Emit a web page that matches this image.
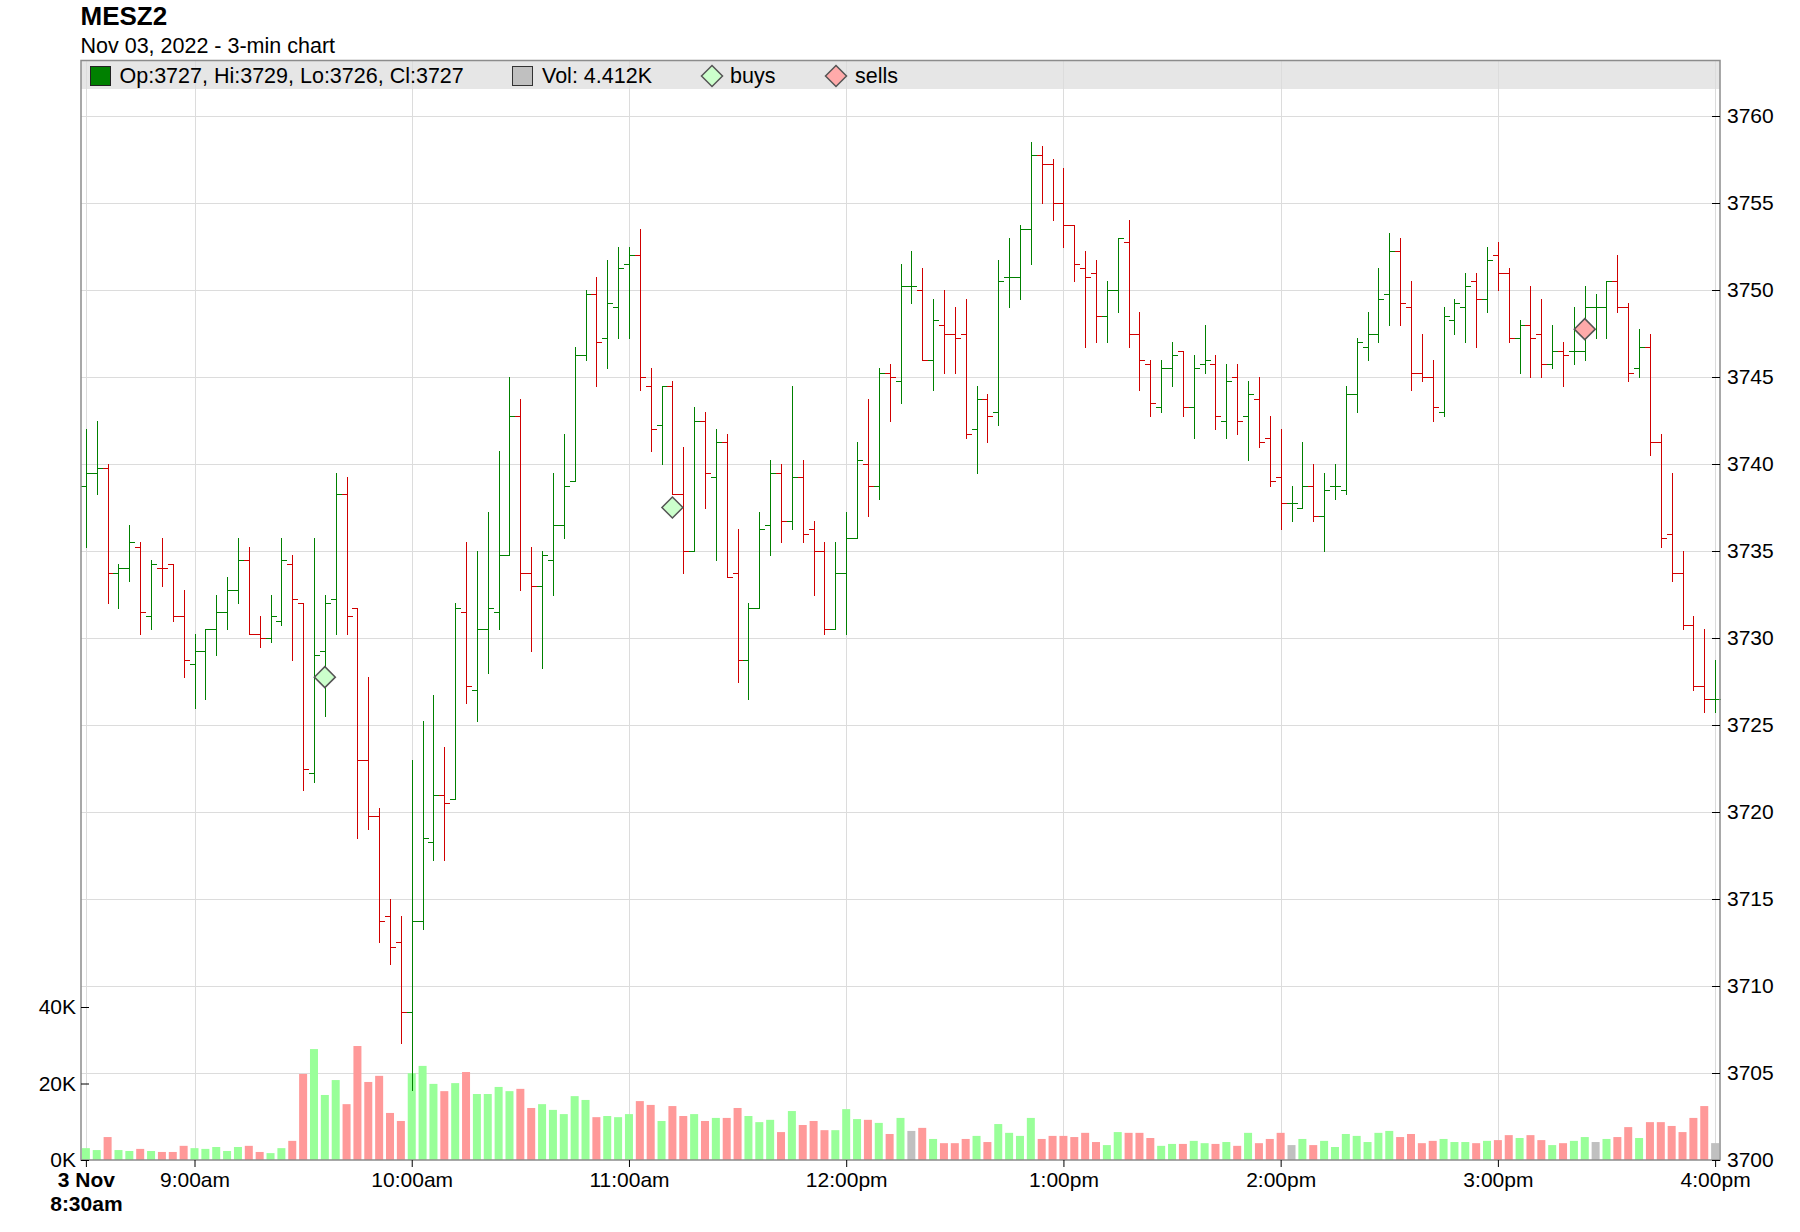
<!DOCTYPE html>
<html>
<head>
<meta charset="utf-8">
<script src="https://cdn.jsdelivr.net/npm/d3@7"></script>
<style>
  body { margin: 0; background: #fff; }
  svg { display: block; font-family: "Liberation Sans", Arial, sans-serif; }
</style>
</head>
<body>
<div class="chart"></div>
<script>
// MESZ2, Nov 03 2022, 3-min bars from 8:30am to 4:00pm
const symbol = "MESZ2";
const subtitle = "Nov 03, 2022 - 3-min chart";
const startTime = "2022-11-03 08:30";
const barMinutes = 3;

const opens = [
  3738.75, 3739.5, 3739.75, 3733.75, 3734, 3735.25, 3731.25, 3734, 3734.25, 3731.25,
  3728.5, 3729.25, 3730.5, 3731.5, 3732.75, 3734.5, 3730.25, 3730, 3731, 3734.25,
  3732, 3722.25, 3729.25, 3732.25, 3738.25, 3731.75, 3723, 3719.75, 3714, 3712.5,
  3708.5, 3713.75, 3718.25, 3721, 3720.75, 3731.5, 3727, 3730.5, 3731.5, 3734.75,
  3742.75, 3733.75, 3733, 3734.5, 3736.5, 3739, 3746.25, 3749.75, 3747.25, 3749,
  3751.5, 3752, 3744.5, 3742.25, 3744.5, 3738.25, 3735, 3742.5, 3739.25, 3741.25,
  3733.75, 3728.75, 3731.75, 3736.5, 3739.5, 3736.75, 3739.25, 3736.25, 3735, 3730.5,
  3733.75, 3735.75, 3740, 3738.75, 3745.25, 3744.75, 3750.25, 3750, 3746, 3748,
  3747.5, 3747.5, 3742, 3743.75, 3743, 3750.75, 3750.75, 3753.5, 3757.75, 3757.25,
  3755, 3753.75, 3751.25, 3751, 3748.5, 3750, 3752.75, 3747.5, 3745.75, 3743.25,
  3745.5, 3746.5, 3743.25, 3745.75, 3745.75, 3742.5, 3745, 3742.75, 3743.75, 3741.5,
  3739.25, 3737.75, 3737.5, 3738.75, 3737, 3738.75, 3738.5, 3744, 3746.75, 3747.5,
  3749.75, 3752.25, 3749, 3745.25, 3745, 3743, 3748.25, 3749, 3750.5, 3749.5,
  3752, 3751, 3747.25, 3748, 3747.5, 3745.75, 3746.5, 3746.5, 3746.5, 3749,
  3749, 3750.5, 3749, 3745.5, 3746.75, 3741.25, 3736, 3733.75, 3730.75, 3727.25,
  3726.5
];

const highs = [
  3742, 3742.5, 3740, 3734.25, 3736.5, 3735.5, 3734.5, 3735.75, 3734.25, 3732.75,
  3730.25, 3730.5, 3732.5, 3733.5, 3735.75, 3735.25, 3731.25, 3732.5, 3735.75, 3734.75,
  3732, 3735.75, 3732.5, 3739.5, 3739.25, 3731.75, 3727.75, 3720.25, 3715, 3714,
  3723, 3725.25, 3726.75, 3723.75, 3732, 3735.5, 3735, 3737.25, 3740.75, 3745,
  3743.75, 3735.25, 3735, 3739.5, 3741.75, 3746.75, 3750, 3750.75, 3751.75, 3752.5,
  3752.5, 3753.5, 3745.5, 3744.5, 3744.75, 3741, 3743.25, 3743, 3742, 3741.75,
  3736.25, 3732, 3737.25, 3740.25, 3740, 3744.5, 3740.25, 3736.75, 3735.5, 3735.5,
  3737.25, 3741.25, 3743.75, 3745.5, 3745.75, 3751.5, 3752.25, 3751.25, 3749.5, 3750,
  3749, 3749.5, 3744.5, 3744, 3751.75, 3753, 3753.75, 3758.5, 3758.25, 3757.5,
  3757, 3753.75, 3752.25, 3751.75, 3750.5, 3753, 3754, 3748.75, 3746, 3746,
  3747, 3746.5, 3746.25, 3748, 3746.25, 3745.75, 3745.75, 3744.75, 3745, 3742.75,
  3742, 3738.75, 3741.25, 3740, 3739.5, 3740, 3744.5, 3747.25, 3748.75, 3751.25,
  3753.25, 3753, 3750.5, 3747.5, 3746, 3749, 3749.5, 3751, 3751, 3752.5,
  3752.75, 3751.25, 3748.25, 3750.25, 3749.5, 3748, 3747, 3749, 3750.25, 3749.75,
  3750.5, 3752, 3749.25, 3747.75, 3747.5, 3741.75, 3739.5, 3735, 3731.25, 3730.5,
  3728.75
];

const lows = [
  3735.25, 3738.25, 3732, 3731.75, 3733.25, 3730.25, 3730.5, 3733, 3731, 3727.75,
  3726, 3726.5, 3729, 3730.5, 3732, 3730.25, 3729.5, 3729.75, 3730.75, 3728.75,
  3721.25, 3721.75, 3725.5, 3730.25, 3730.25, 3718.5, 3719, 3712.5, 3711.25, 3706.75,
  3704, 3713.25, 3717.25, 3717.25, 3720.75, 3726.25, 3725.25, 3728, 3730.5, 3734.75,
  3732.75, 3729.25, 3728.25, 3732.5, 3735.75, 3739, 3746, 3744.5, 3745.5, 3747.25,
  3747.25, 3744.25, 3740.75, 3740, 3738.25, 3733.75, 3735, 3737.5, 3734.5, 3733.5,
  3727.5, 3726.5, 3731.75, 3734.75, 3735.5, 3736.25, 3735.5, 3732.5, 3730.25, 3730.5,
  3730.25, 3735.75, 3737, 3738, 3742.5, 3743.5, 3749.25, 3746, 3744.25, 3745.25,
  3745.25, 3741.5, 3739.5, 3741.25, 3742.25, 3749, 3749.5, 3751.5, 3755, 3754,
  3752.5, 3750.5, 3746.75, 3747, 3747, 3748.75, 3746.75, 3744.25, 3742.75, 3743,
  3744.5, 3742.75, 3741.5, 3745.25, 3742, 3741.5, 3741.75, 3740.25, 3741, 3738.75,
  3736.25, 3736.75, 3737.5, 3736.75, 3735, 3738, 3738.25, 3743, 3746, 3747,
  3748, 3748, 3744.25, 3744.75, 3742.5, 3742.75, 3747.5, 3747, 3746.75, 3748.75,
  3750, 3747, 3745.25, 3745, 3745, 3745.5, 3744.5, 3745.75, 3746, 3747.25,
  3747.25, 3748.75, 3744.75, 3745, 3740.5, 3735.25, 3733.25, 3730.5, 3727, 3725.75,
  3725.75
];

const closes = [
  3739.5, 3739.75, 3733.75, 3734, 3735.5, 3731.5, 3734.25, 3734, 3731.25, 3728.75,
  3729.25, 3730.5, 3731.5, 3732.75, 3734.5, 3730.25, 3730, 3731.25, 3734.5, 3732.25,
  3722.5, 3729, 3732, 3738.25, 3731.25, 3723, 3719.75, 3713.75, 3712.25, 3708.5,
  3713.75, 3718.5, 3721, 3720.5, 3731.75, 3727.25, 3730.5, 3731.75, 3734.75, 3742.75,
  3733.75, 3733, 3734.75, 3736.5, 3738.75, 3746.25, 3749.75, 3747, 3749.25, 3751.25,
  3752, 3745, 3742, 3744.5, 3738.25, 3735, 3742.5, 3739.5, 3741.25, 3733.5,
  3728.75, 3731.75, 3736.25, 3739.5, 3736.75, 3739.25, 3736, 3735, 3730.5, 3733.75,
  3735.75, 3740.25, 3738.75, 3745.25, 3745, 3750.25, 3750.25, 3746, 3748.25, 3747.5,
  3747.25, 3741.75, 3743.75, 3742.75, 3750.5, 3750.75, 3753.5, 3757.75, 3757.25, 3755,
  3753.75, 3751.5, 3750.75, 3748.5, 3750, 3753, 3747.5, 3746, 3743.5, 3745.5,
  3746.25, 3743.25, 3745.5, 3746, 3742.75, 3744.75, 3742.5, 3744, 3741.25, 3739,
  3737.75, 3737.75, 3738.75, 3737, 3738.5, 3738.75, 3744, 3747, 3747.5, 3749.5,
  3752.25, 3749.25, 3745.25, 3745, 3743.25, 3748.5, 3749.25, 3750.25, 3749.5, 3751.75,
  3751, 3747.25, 3748, 3747.25, 3745.75, 3746.5, 3746.25, 3746.5, 3749, 3749,
  3750.5, 3749, 3745.25, 3746.75, 3741.25, 3735.75, 3733.75, 3730.75, 3727.25, 3726.5,
  3726.5
];

const volumes = [
  3100, 2600, 6000, 2600, 2350, 2900, 2350, 2100, 2100, 3700,
  3100, 2900, 3400, 2350, 3400, 3700, 2100, 1800, 3100, 5000,
  22500, 29000, 17000, 20900, 14600, 29800, 20400, 22000, 12300, 10200,
  22700, 24600, 19900, 18000, 20100, 23000, 17250, 17250, 19100, 18000,
  18600, 13600, 14600, 13100, 12000, 16700, 15700, 11200, 11500, 11200,
  12000, 15400, 14400, 10200, 14100, 11500, 12000, 10200, 11000, 11000,
  13600, 11500, 9900, 10500, 7300, 12800, 9150, 10200, 7800, 7800,
  13300, 10700, 10500, 9700, 6800, 11000, 7600, 8400, 5500, 4400,
  4400, 5500, 6300, 4700, 9400, 7100, 6300, 11000, 5500, 6300,
  6300, 6000, 7100, 4700, 3900, 7300, 7100, 7100, 5750, 3700,
  4200, 4200, 5000, 4400, 4200, 4700, 3700, 7100, 4400, 5500,
  7100, 3900, 5500, 3900, 5000, 3400, 6800, 6300, 4700, 7100,
  7600, 6000, 6800, 4400, 5000, 5500, 4700, 4700, 4400, 5000,
  5200, 6500, 5750, 6500, 5200, 3900, 4400, 5000, 6000, 4700,
  5500, 6000, 8600, 5750, 9900, 9900, 8900, 7300, 11000, 14100,
  4412
];

// trade markers (bar index, price)
const buyBars = [22, 54];
const buyPrices = [3727.75, 3737.5];
const sellBars = [138];
const sellPrices = [3747.75];

// axis ticks
const priceTicks = [3700, 3705, 3710, 3715, 3720, 3725, 3730, 3735, 3740, 3745, 3750, 3755, 3760];
const volumeTicks = [0, 20000, 40000];
const timeTicks = ["08:30", "09:00", "10:00", "11:00", "12:00", "13:00", "14:00", "15:00", "16:00"];

// colours
const upColor = "#008000";
const downColor = "#d00000";
const volUp = "#99ff99";
const volDown = "#ff9999";
const volFlat = "#c0c0c0";

// svg sizing
let width = 1800;
let height = 1232;
let plotLeft = 81;
let plotRight = 1720;
let plotTop = 61;
let plotBottom = 1160;
let bandBottom = 89;

let parseTime = d3.timeParse("%Y-%m-%d %H:%M");
let t0 = parseTime(startTime);
let day = startTime.slice(0, 10);

let bars = opens.map((o, i) => {
  return {
    time: d3.timeMinute.offset(t0, i * barMinutes),
    open: o,
    high: highs[i],
    low: lows[i],
    close: closes[i],
    volume: volumes[i]
  };
});

// bar colour by close vs open, ties broken by previous close
bars.forEach((d, i) => {
  let prev = i > 0 ? bars[i - 1].close : d.open;
  d.up = d.close > d.open || (d.close === d.open && d.close >= prev);
  d.volColor = d.close > prev ? volUp : d.close < prev ? volDown : volFlat;
});

let last = bars[bars.length - 1];

// scales
let x = d3
  .scaleTime()
  .domain([d3.timeSecond.offset(bars[0].time, -81), d3.timeSecond.offset(last.time, 81)])
  .range([plotLeft, plotRight]);

let y = d3
  .scaleLinear()
  .domain([3700, 3760])
  .range([plotBottom, 116]);

let vy = d3
  .scaleLinear()
  .domain([0, 40000])
  .range([plotBottom, 1007]);

let snap = v => Math.round(v) + 0.5;

let graph = d3
  .select(".chart")
  .append("svg")
  .attr("width", width)
  .attr("height", height);

graph.append("rect").attr("width", width).attr("height", height).attr("fill", "#fff");

// titles
graph
  .append("text")
  .text(symbol)
  .attr("x", plotLeft - 0.5)
  .attr("y", 25)
  .attr("font-size", 26)
  .attr("font-weight", "bold");

graph
  .append("text")
  .text(subtitle)
  .attr("x", plotLeft - 0.5)
  .attr("y", 53)
  .attr("font-size", 21.5);

// legend band
graph
  .append("rect")
  .attr("x", plotLeft)
  .attr("y", plotTop)
  .attr("width", plotRight - plotLeft)
  .attr("height", bandBottom - plotTop)
  .attr("fill", "#e6e6e6");

// grid
let timeValues = timeTicks.map(t => parseTime(day + " " + t));

graph
  .append("g")
  .attr("id", "vgrid")
  .selectAll("line")
  .data(timeValues)
  .enter()
  .append("line")
  .attr("x1", d => snap(x(d)))
  .attr("x2", d => snap(x(d)))
  .attr("y1", plotTop)
  .attr("y2", plotBottom)
  .attr("stroke", "#dcdcdc");

graph
  .append("g")
  .attr("id", "hgrid")
  .selectAll("line")
  .data(priceTicks.filter(p => p > 3700))
  .enter()
  .append("line")
  .attr("x1", plotLeft)
  .attr("x2", plotRight)
  .attr("y1", d => snap(y(d)))
  .attr("y2", d => snap(y(d)))
  .attr("stroke", "#dcdcdc");

// volume bars
graph
  .append("g")
  .attr("id", "volume")
  .selectAll("rect")
  .data(bars)
  .enter()
  .append("rect")
  .attr("x", d => x(d.time) - 4)
  .attr("width", 8)
  .attr("y", d => vy(d.volume))
  .attr("height", d => plotBottom - vy(d.volume))
  .attr("fill", d => d.volColor);

// ohlc bars
let ohlc = graph
  .append("g")
  .attr("id", "ohlc")
  .selectAll("g")
  .data(bars)
  .enter()
  .append("g")
  .attr("stroke", d => (d.up ? upColor : downColor))
  .attr("stroke-width", 1);

ohlc
  .append("line")
  .attr("x1", d => snap(x(d.time)))
  .attr("x2", d => snap(x(d.time)))
  .attr("y1", d => Math.round(y(d.high)))
  .attr("y2", d => Math.round(y(d.low)) + 1);

ohlc
  .append("line")
  .attr("x1", d => Math.round(x(d.time)) - 5)
  .attr("x2", d => Math.round(x(d.time)))
  .attr("y1", d => snap(y(d.open)))
  .attr("y2", d => snap(y(d.open)));

ohlc
  .append("line")
  .attr("x1", d => Math.round(x(d.time)) + 1)
  .attr("x2", d => Math.round(x(d.time)) + 6)
  .attr("y1", d => snap(y(d.close)))
  .attr("y2", d => snap(y(d.close)));

// buy / sell markers
let diamond = (cx, cy, r) => `M${cx},${cy - r}L${cx + r},${cy}L${cx},${cy + r}L${cx - r},${cy}Z`;

graph
  .append("g")
  .attr("id", "buys")
  .selectAll("path")
  .data(buyBars)
  .enter()
  .append("path")
  .attr("d", (b, i) => diamond(x(bars[b].time), y(buyPrices[i]), 10.5))
  .attr("fill", "#ccffcc")
  .attr("stroke", "#555")
  .attr("stroke-width", 1.5);

graph
  .append("g")
  .attr("id", "sells")
  .selectAll("path")
  .data(sellBars)
  .enter()
  .append("path")
  .attr("d", (b, i) => diamond(x(bars[b].time), y(sellPrices[i]), 10.5))
  .attr("fill", "#ffaaaa")
  .attr("stroke", "#555")
  .attr("stroke-width", 1.5);

// frame
graph
  .append("rect")
  .attr("x", plotLeft)
  .attr("y", plotTop - 0.5)
  .attr("width", plotRight - plotLeft)
  .attr("height", plotBottom - plotTop + 0.5)
  .attr("fill", "none")
  .attr("stroke", "#8c8c8c")
  .attr("stroke-width", 1.5);

// axes
let styleAxis = g => {
  g.attr("font-size", 21).attr("font-family", null);
  g.select(".domain").remove();
  g.selectAll(".tick line").attr("stroke", "#000");
  g.selectAll(".tick text").attr("fill", "#000");
};

let priceAxis = d3
  .axisRight(y)
  .tickValues(priceTicks)
  .tickSizeInner(-8)
  .tickSizeOuter(0)
  .tickPadding(7)
  .tickFormat(d3.format("d"));

graph
  .append("g")
  .attr("id", "yAxis")
  .attr("transform", `translate(${plotRight},0)`)
  .call(priceAxis)
  .call(styleAxis);

let volumeAxis = d3
  .axisLeft(vy)
  .tickValues(volumeTicks)
  .tickSizeInner(-8)
  .tickSizeOuter(0)
  .tickPadding(5)
  .tickFormat(d => d / 1000 + "K");

graph
  .append("g")
  .attr("id", "volAxis")
  .attr("transform", `translate(${plotLeft},0)`)
  .call(volumeAxis)
  .call(styleAxis);

let hourFormat = d3.timeFormat("%-I:%M%p");

let timeAxis = d3
  .axisBottom(x)
  .tickValues(timeValues)
  .tickSizeInner(7)
  .tickSizeOuter(0)
  .tickPadding(5)
  .tickFormat(d => hourFormat(d).toLowerCase());

let xAxis = graph
  .append("g")
  .attr("id", "xAxis")
  .attr("transform", `translate(0,${plotBottom})`)
  .call(timeAxis)
  .call(styleAxis);

// first tick gets the date on two lines
let first = xAxis.select(".tick text");
let firstLabel = first.text();
first.text("").attr("font-weight", "bold");
first.append("tspan").attr("x", 0).text(d3.timeFormat("%-d %b")(t0));
first.append("tspan").attr("x", 0).attr("dy", "1.15em").text(firstLabel);

// legend
let legend = graph.append("g").attr("id", "legend").attr("font-size", 21.5);
let fmt = v => Math.round(v);

legend
  .append("rect")
  .attr("x", 90.5)
  .attr("y", 66.5)
  .attr("width", 20)
  .attr("height", 19)
  .attr("fill", last.up ? upColor : downColor)
  .attr("stroke", "#222");

legend
  .append("text")
  .attr("x", 119.5)
  .attr("y", 83)
  .text(`Op:${fmt(last.open)}, Hi:${fmt(last.high)}, Lo:${fmt(last.low)}, Cl:${fmt(last.close)}`);

legend
  .append("rect")
  .attr("x", 512.5)
  .attr("y", 66.5)
  .attr("width", 20)
  .attr("height", 19)
  .attr("fill", volFlat)
  .attr("stroke", "#333");

legend
  .append("text")
  .attr("x", 542)
  .attr("y", 83)
  .text(`Vol: ${(last.volume / 1000).toFixed(3)}K`);

legend
  .append("path")
  .attr("d", diamond(712, 76, 10.5))
  .attr("fill", "#ccffcc")
  .attr("stroke", "#555")
  .attr("stroke-width", 1.5);

legend.append("text").attr("x", 730).attr("y", 83).text("buys");

legend
  .append("path")
  .attr("d", diamond(836, 76, 10.5))
  .attr("fill", "#ffaaaa")
  .attr("stroke", "#555")
  .attr("stroke-width", 1.5);

legend.append("text").attr("x", 855).attr("y", 83).text("sells");
</script>
</body>
</html>
